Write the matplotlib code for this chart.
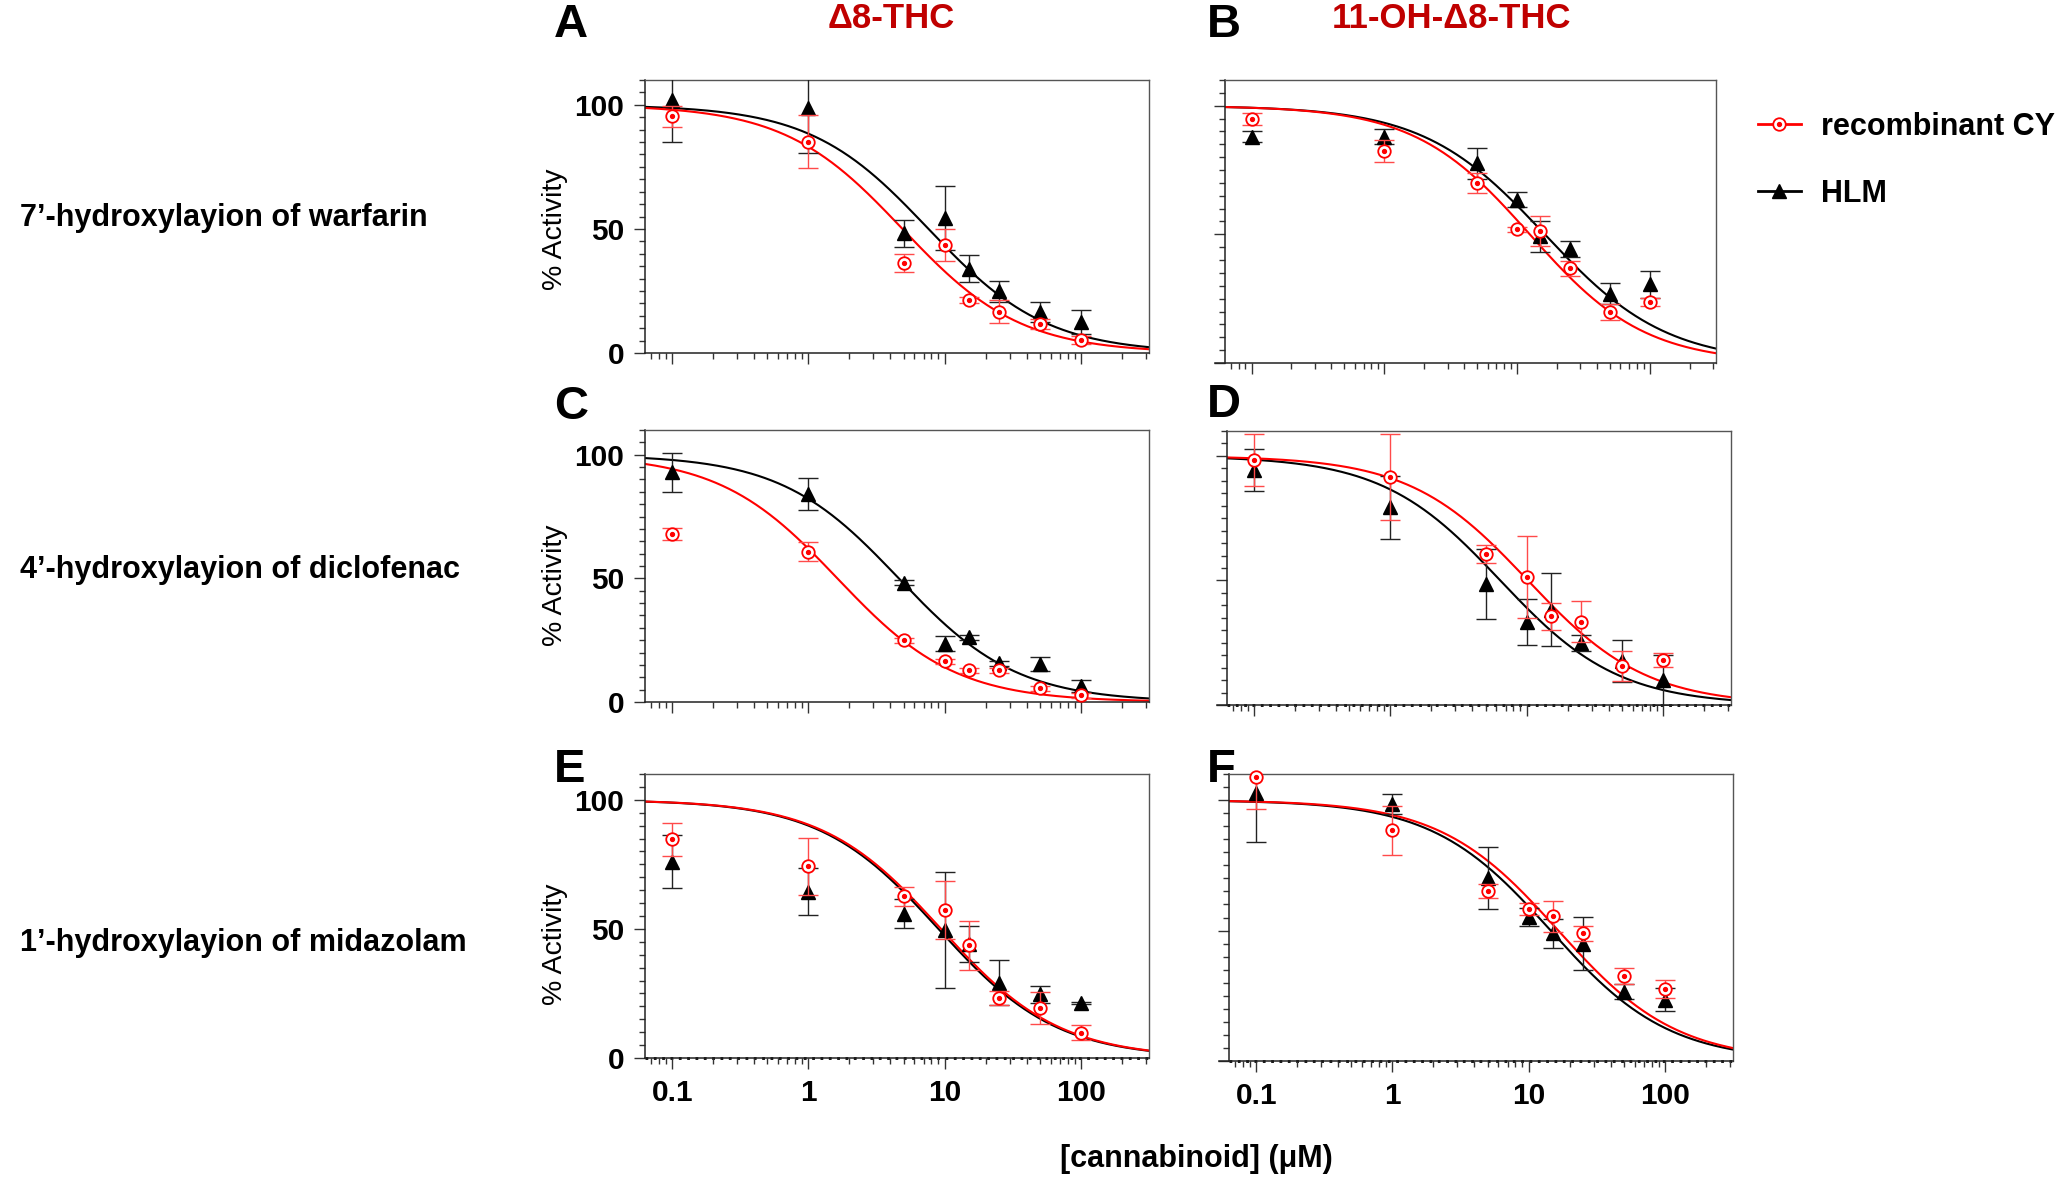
import numpy as np
import matplotlib.pyplot as plt
from matplotlib.lines import Line2D
from matplotlib.ticker import FixedLocator, MultipleLocator, LogLocator

plt.rcParams['font.family'] = ['Liberation Sans', 'DejaVu Sans']

# concentrations (uM)
conc = [0.1, 1, 5, 10, 15, 25, 50, 100]

# % activity (mean, error), panels A-F
hlm_A = [102.0, 98.7, 48.2, 54.4, 34.0, 24.8, 16.4, 12.5]
hlm_A_err = [17.0, 18.0, 5.5, 13.0, 5.5, 4.3, 4.0, 5.0]
rec_A = [95.4, 85.2, 36.2, 43.5, 21.5, 16.6, 11.7, 5.2]
rec_A_err = [4.3, 10.7, 3.5, 6.3, 1.2, 4.6, 2.0, 1.5]

hlm_B = [88.0, 88.0, 77.6, 63.5, 49.2, 44.3, 27.0, 30.6]
hlm_B_err = [2.0, 3.0, 6.0, 3.0, 6.0, 3.0, 4.0, 5.3]
rec_B = [94.8, 82.4, 70.0, 52.0, 51.4, 36.8, 19.9, 23.6]
rec_B_err = [2.3, 4.3, 4.0, 1.0, 5.8, 2.8, 3.0, 1.5]

hlm_C = [92.9, 84.1, 48.2, 23.6, 26.2, 15.6, 15.5, 6.5]
hlm_C_err = [8.0, 6.3, 1.0, 3.0, 1.0, 1.0, 2.8, 2.4]
rec_C = [68.0, 60.8, 25.0, 16.4, 12.9, 12.8, 5.5, 2.8]
rec_C_err = [2.4, 3.8, 1.0, 1.0, 1.0, 1.0, 1.0, 1.0]

hlm_D = [94.4, 79.3, 48.7, 33.3, 38.3, 24.9, 17.7, 10.1]
hlm_D_err = [8.4, 12.6, 14.0, 9.4, 14.5, 3.4, 8.3, 10.0]
rec_D = [98.4, 91.4, 60.6, 51.3, 35.6, 33.5, 15.7, 18.1]
rec_D_err = [10.5, 17.2, 3.7, 16.5, 5.4, 8.4, 5.9, 2.7]

hlm_E = [76.1, 64.4, 55.9, 49.5, 44.0, 29.1, 24.6, 21.3]
hlm_E_err = [10.4, 9.0, 5.7, 22.5, 7.0, 8.7, 3.2, 0.5]
rec_E = [84.7, 74.3, 62.6, 57.4, 43.6, 23.4, 19.4, 9.8]
rec_E_err = [6.4, 11.0, 3.8, 11.3, 9.4, 2.7, 6.1, 3.0]

hlm_F = [102.6, 98.4, 70.2, 55.1, 48.9, 45.0, 26.6, 23.4]
hlm_F_err = [18.6, 3.9, 12.0, 3.5, 5.4, 10.3, 3.0, 4.4]
rec_F = [108.7, 88.4, 65.3, 58.3, 55.4, 48.9, 32.7, 27.6]
rec_F_err = [12.0, 9.5, 2.7, 2.3, 6.0, 2.9, 3.0, 3.5]

# fitted dose-response curves (IC50 in uM, Hill slope), panels A-F
hlm_ic50 = [7.6, 16.2, 4.6, 6.4, 9.0, 14.5]
hlm_hill = [1.0, 0.95, 1.0, 1.0, 1.0, 1.0]
rec_ic50 = [4.9, 12.5, 1.63, 10.2, 9.4, 16.5]
rec_hill = [1.0, 1.0, 1.0, 1.0, 1.0, 1.0]

panel_letters = ['A', 'B', 'C', 'D', 'E', 'F']
col_titles = ['Δ8-THC', '11-OH-Δ8-THC']
row_labels = ['7’-hydroxylayion of warfarin',
              '4’-hydroxylayion of diclofenac',
              '1’-hydroxylayion of midazolam']
x_ticks = [0.1, 1, 10, 100]
x_ticklabels = ['0.1', '1', '10', '100']
y_ticks = [0, 50, 100]
series_labels = ['recombinant CY', 'HLM']

W, H = 2057, 1177
fig = plt.figure(figsize=(W / 100, H / 100), dpi=100)


def px_rect(left, right, top, bottom):
    return [left / W, 1 - bottom / H, (right - left) / W, (bottom - top) / H]


rects = [px_rect(645, 1149, 80, 353), px_rect(1225, 1716, 80, 363),
         px_rect(645, 1149, 430, 702), px_rect(1227, 1731, 431, 705),
         px_rect(645, 1149, 774, 1058), px_rect(1229, 1733, 774, 1061)]
ylabel_y = [0.455, None, 0.43, None, 0.40, None]

hlm_all = [hlm_A, hlm_B, hlm_C, hlm_D, hlm_E, hlm_F]
hlm_err_all = [hlm_A_err, hlm_B_err, hlm_C_err, hlm_D_err, hlm_E_err, hlm_F_err]
rec_all = [rec_A, rec_B, rec_C, rec_D, rec_E, rec_F]
rec_err_all = [rec_A_err, rec_B_err, rec_C_err, rec_D_err, rec_E_err, rec_F_err]

xmin, xmax = 10 ** -1.2, 10 ** 2.5
xs = np.logspace(-1.2, 2.5, 300)

for i in range(6):
    ax = fig.add_axes(rects[i])
    left_col = i % 2 == 0
    bottom_row = i >= 4

    ax.plot(xs, 100 / (1 + (xs / hlm_ic50[i]) ** hlm_hill[i]), color='black', lw=1.5, zorder=2)
    ax.plot(xs, 100 / (1 + (xs / rec_ic50[i]) ** rec_hill[i]), color='#ff0000', lw=1.5, zorder=2)

    ax.errorbar(conc, hlm_all[i], yerr=hlm_err_all[i], fmt='none', ecolor='#222222',
                elinewidth=1.0, capsize=7.5, capthick=1.0, zorder=3)
    ax.plot(conc, hlm_all[i], ls='none', marker='^', ms=10, color='black', zorder=4, clip_on=False)
    ax.errorbar(conc, rec_all[i], yerr=rec_err_all[i], fmt='none', ecolor='#ff4a4a',
                elinewidth=1.0, capsize=7.5, capthick=1.0, zorder=5)
    ax.plot(conc, rec_all[i], ls='none', marker='o', ms=9, mfc='white', mec='#ff0000',
            mew=1.3, zorder=6, clip_on=False)
    ax.plot(conc, rec_all[i], ls='none', marker='o', ms=2.8, color='#ff0000', zorder=7, clip_on=False)

    if i >= 3:
        ax.axhline(0, color='black', lw=2, ls=(0, (1, 2)), clip_on=False, zorder=1)

    ax.set_xscale('log')
    ax.set_xlim(xmin, xmax)
    ax.set_ylim(0, 110)
    ax.xaxis.set_major_locator(FixedLocator(x_ticks))
    ax.xaxis.set_minor_locator(LogLocator(base=10, subs=np.arange(2, 10), numticks=20))
    ax.yaxis.set_major_locator(FixedLocator(y_ticks))
    ax.yaxis.set_minor_locator(MultipleLocator(5))
    ax.tick_params(which='major', length=8, width=1, color='#333333', direction='out', pad=7,
                   labelsize=21.5)
    ax.tick_params(which='minor', length=4.5, width=1, color='#333333', direction='out')

    for s in ['left', 'bottom']:
        ax.spines[s].set_color('#222222')
        ax.spines[s].set_linewidth(1.1)
    for s in ['top', 'right']:
        ax.spines[s].set_color('#555555')
        ax.spines[s].set_linewidth(1.0)
    if not left_col:
        ax.spines['bottom'].set_bounds(10 ** -1.275, xmax)

    if left_col:
        ax.set_yticklabels([str(v) for v in y_ticks], fontweight='bold')
        ax.set_ylabel('% Activity', fontsize=20.5)
        ax.yaxis.set_label_coords(-0.152, ylabel_y[i])
    else:
        ax.tick_params(labelleft=False)
    if bottom_row:
        ax.set_xticklabels(x_ticklabels, fontweight='bold')
    else:
        ax.tick_params(labelbottom=False)

# panel letters
letter_pos = [(554, 25), (1207, 25), (554, 407), (1207, 405), (554, 770), (1207, 770)]
for letter, (lx, ly) in zip(panel_letters, letter_pos):
    fig.text(lx / W, 1 - ly / H, letter, fontsize=34, fontweight='bold', ha='left', va='center')

# column titles
fig.text(891 / W, 1 - 18 / H, col_titles[0], fontsize=25, fontweight='bold', color='#c00000',
         ha='center', va='center')
fig.text(1452 / W, 1 - 18 / H, col_titles[1], fontsize=25, fontweight='bold', color='#c00000',
         ha='center', va='center')

# row labels
for lab, ry in zip(row_labels, [218, 570, 943]):
    fig.text(20 / W, 1 - ry / H, lab, fontsize=22, fontweight='bold', ha='left', va='center')

fig.text(1196 / W, 1 - 1159 / H, '[cannabinoid] (μM)', fontsize=22, fontweight='bold',
         ha='center', va='center')

# legend
h_rec = (Line2D([], [], color='#ff0000', lw=2, marker='o', ms=9, mfc='white', mec='#ff0000', mew=1.3),
         Line2D([], [], ls='none', marker='o', ms=2.8, color='#ff0000'))
h_hlm = Line2D([], [], color='black', lw=2, marker='^', ms=10)
fig.legend([h_rec, h_hlm], series_labels, loc='upper left', bbox_to_anchor=(1758 / W, 1 - 112 / H),
           frameon=False, prop=dict(weight='bold', size=22), handlelength=1.4,
           handletextpad=0.65, labelspacing=1.2, borderpad=0, borderaxespad=0)

fig.savefig('out.png', dpi=100)
